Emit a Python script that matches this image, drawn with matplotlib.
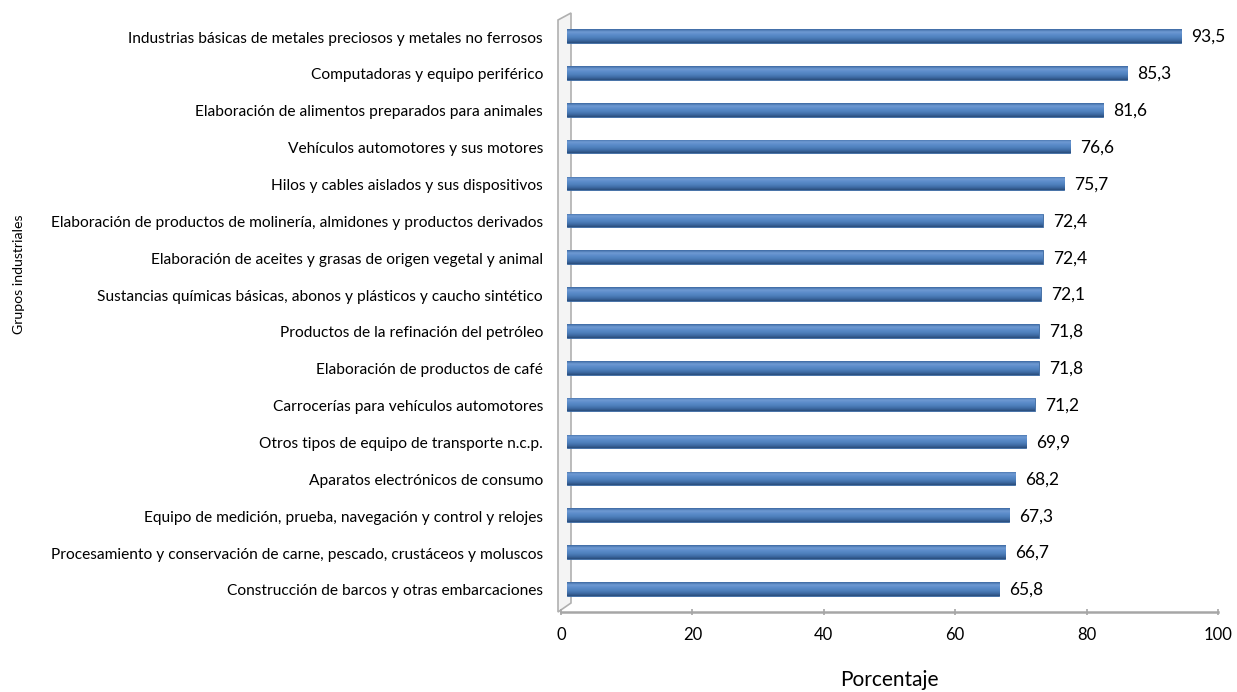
import matplotlib.pyplot as plt
import matplotlib.transforms as mtransforms
import numpy as np
from matplotlib.colors import LinearSegmentedColormap

plt.rcParams['font.family'] = ['Lato', 'DejaVu Sans']

grupos = ["Industrias básicas de metales preciosos y metales no ferrosos",
          "Computadoras y equipo periférico",
          "Elaboración de alimentos preparados para animales",
          "Vehículos automotores y sus motores",
          "Hilos y cables aislados y sus dispositivos",
          "Elaboración de productos de molinería, almidones y productos derivados",
          "Elaboración de aceites y grasas de origen vegetal y animal",
          "Sustancias químicas básicas, abonos y plásticos y caucho sintético",
          "Productos de la refinación del petróleo",
          "Elaboración de productos de café",
          "Carrocerías para vehículos automotores",
          "Otros tipos de equipo de transporte n.c.p.",
          "Aparatos electrónicos de consumo",
          "Equipo de medición, prueba, navegación y control y relojes",
          "Procesamiento y conservación de carne, pescado, crustáceos y moluscos",
          "Construcción de barcos y otras embarcaciones"]
porcentaje = [93.5, 85.3, 81.6, 76.6, 75.7, 72.4, 72.4, 72.1,
              71.8, 71.8, 71.2, 69.9, 68.2, 67.3, 66.7, 65.8]
ticks = [0, 20, 40, 60, 80, 100]

W, H = 1237, 692
fig = plt.figure(figsize=(W/100, H/100), dpi=100)
ax = fig.add_axes([561/W, 1-612/H, (1218-561)/W, (612-15)/H])

y = np.arange(len(grupos))
# 3D look: bars sit a little behind the value axis
shift = mtransforms.offset_copy(ax.transData, fig=fig, x=6, y=1, units='dots')

cmap = LinearSegmentedColormap.from_list('barra', ['#3d6aa3', '#6f9ad3', '#5b8cca',
                                                   '#4f81bd', '#3f6ca6', '#2a4d7c'])
grad = np.linspace(0, 1, 50).reshape(-1, 1)

bars = ax.barh(y, porcentaje, height=0.37, color='#4f81bd', edgecolor='#3a679f',
               linewidth=0.6, transform=shift, zorder=2)
for b in bars:
    x0, y0 = b.get_x(), b.get_y()
    im = ax.imshow(grad, cmap=cmap, aspect='auto', interpolation='bilinear',
                   extent=(x0, x0 + b.get_width(), y0 + b.get_height(), y0),
                   transform=shift, zorder=3)
    im.set_clip_path(b)

for yi, v in zip(y, porcentaje):
    ax.annotate(f"{v:.1f}".replace('.', ','), (v, yi), xytext=(16, 0),
                textcoords='offset pixels', va='center', ha='left', fontsize=12.5)

ax.set_xlim(0, 100)
ax.set_ylim(15.6, -0.6)
ax.set_yticks(y)
ax.set_yticklabels(grupos, fontsize=11.2)
ax.tick_params(axis='y', length=0, pad=13)
ax.set_xticks(ticks)
ax.set_xticklabels([str(t) for t in ticks], fontsize=12)
ax.tick_params(axis='x', length=5, width=1.2, color='#a6a6a6', direction='inout', pad=8)
for s in ['top', 'right', 'left']:
    ax.spines[s].set_visible(False)
ax.spines['bottom'].set_color('#a6a6a6')
ax.spines['bottom'].set_linewidth(1.8)
ax.set_xlabel("Porcentaje", fontsize=15, labelpad=20)
ax.patch.set_visible(False)

# side wall of the 3D chart
wx = np.array([558, 571, 571, 558, 558]) / W
wy = 1 - np.array([20, 13, 603, 612, 20]) / H
fig.add_artist(plt.Polygon(np.c_[wx, wy], closed=True, facecolor='#f4f4f4',
                           edgecolor='#b0b0b0', linewidth=1.2, zorder=0))

fig.text(19/W, 1-274/H, "Grupos industriales", rotation=90, ha='center',
         va='center', fontsize=10.2)

plt.savefig("out.png", dpi=100)
